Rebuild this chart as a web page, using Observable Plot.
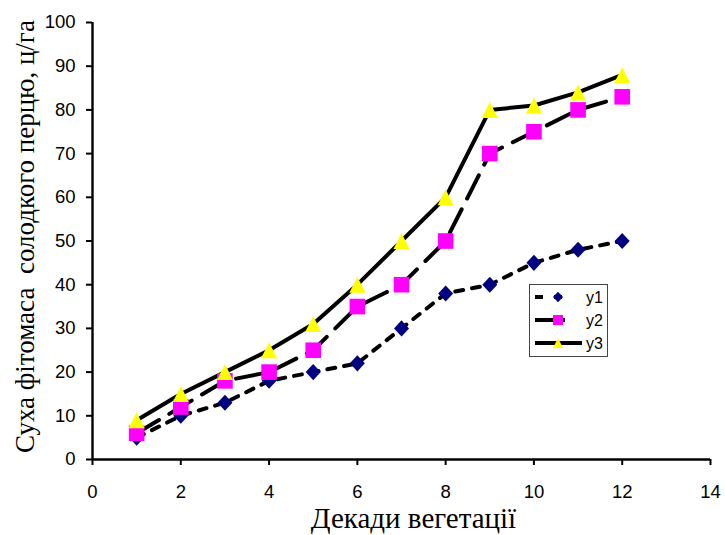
<!DOCTYPE html>
<html><head><meta charset="utf-8">
<script src="https://cdn.jsdelivr.net/npm/d3@7"></script>
<script src="https://cdn.jsdelivr.net/npm/@observablehq/plot@0.6"></script>
<style>
body{margin:0;background:#fff;}
#wrap{position:relative;width:725px;height:535px;}
#chart svg{overflow:visible;}
#legend{position:absolute;left:529px;top:284px;width:79px;height:73px;border:1px solid #444;background:#fff;box-sizing:border-box;font-family:"Liberation Sans",Arial,sans-serif;font-size:15px;}
</style></head>
<body><div id="wrap"><div id="chart"></div><div id="legend"></div></div>
<script>
const decades = [1,2,3,4,5,6,7,8,9,10,11,12];
const y1 = [5,10,13,18,20,22,30,38,40,45,48,50];
const y2 = [6,12,18,20,25,35,40,50,70,75,80,83];
const y3 = [9,15,20,25,31,40,50,60,80,81,84,88];
const xTicks = [0,2,4,6,8,10,12,14];
const yTicks = [0,10,20,30,40,50,60,70,80,90,100];
const seriesNames = ["y1","y2","y3"];
const yLabel = "Суха фітомаса  солодкого перцю, ц/га";
const xLabel = "Декади вегетації";

// custom marker shapes (r = sqrt(size/PI))
const diamondSym = {draw(ctx,size){const r=Math.sqrt(size/Math.PI);ctx.moveTo(0,-r*1.07);ctx.lineTo(r,0);ctx.lineTo(0,r*1.07);ctx.lineTo(-r,0);ctx.closePath();}};
const squareSym = {draw(ctx,size){const r=Math.sqrt(size/Math.PI);ctx.rect(-r,-r,2*r,2*r);}};
const triangleSym = {draw(ctx,size){const r=Math.sqrt(size/Math.PI);ctx.moveTo(0,-r);ctx.lineTo(r,r);ctx.lineTo(-r,r);ctx.closePath();}};

const styles = {
  y1:{dash:"8,9", symbol:diamondSym, fill:"#000080", r:7.5},
  y2:{dash:"26,12", symbol:squareSym, fill:"#FF00FF", r:7.8},
  y3:{dash:null, symbol:triangleSym, fill:"#FFFF00", r:8}
};
const seriesVals = [y1,y2,y3];
const rows = [];
seriesNames.forEach((s,i)=>decades.forEach((d,j)=>rows.push({series:s,x:d,y:seriesVals[i][j]})));

const marks = [];
seriesNames.forEach(s=>{
  const data = rows.filter(r=>r.series===s);
  marks.push(Plot.line(data,{x:"x",y:"y",stroke:"black",strokeWidth:4,strokeDasharray:styles[s].dash||undefined}));
});
seriesNames.forEach(s=>{
  const data = rows.filter(r=>r.series===s);
  marks.push(Plot.dot(data,{x:"x",y:"y",symbol:()=>styles[s].symbol,fill:styles[s].fill,stroke:"none",r:styles[s].r}));
});

const chart = Plot.plot({
  width:725,height:535,
  marginLeft:92,marginRight:15,marginTop:22,marginBottom:76,
  style:{fontFamily:"Liberation Sans, Arial, sans-serif",background:"#fff",overflow:"visible"},
  x:{domain:[0,14]},
  y:{domain:[0,100]},
  symbol:{type:"identity"},
  marks:[
    ...marks,
    Plot.ruleY([0],{stroke:"black",strokeWidth:2.4}),
    Plot.ruleX([0],{stroke:"black",strokeWidth:2.4}),
    Plot.axisX({ticks:xTicks,tickSize:6,tickPadding:19,fontSize:18.5,label:null,stroke:"black",strokeWidth:2,tickFormat:d=>String(d)}),
    Plot.axisY({ticks:yTicks,tickSize:6,tickPadding:11,fontSize:18.5,label:null,stroke:"black",strokeWidth:2,tickFormat:d=>String(d)}),
    Plot.text([yLabel],{frameAnchor:"left",textAnchor:"middle",lineAnchor:"middle",rotate:-90,dx:-67,dy:-4.5,fontSize:27,fontFamily:"Liberation Serif, Times New Roman, serif",fill:"black"}),
    Plot.text([xLabel],{frameAnchor:"bottom",textAnchor:"middle",lineAnchor:"middle",dy:59.5,dx:12,fontSize:29,fontFamily:"Liberation Serif, Times New Roman, serif",fill:"black"})
  ]
});
document.getElementById("chart").appendChild(chart);

// legend
const leg = d3.select("#legend").append("svg").attr("width",77).attr("height",71);
const legendLen = {y1:36, y2:30, y3:47};
seriesNames.forEach((s,i)=>{
  const cy = 12 + i*23;
  const st = styles[s];
  leg.append("line").attr("x1",5).attr("x2",5+legendLen[s]).attr("y1",cy).attr("y2",cy)
    .attr("stroke","black").attr("stroke-width",4).attr("stroke-dasharray",s==="y1"?"8,11":(s==="y2"?"30,12":null));
  leg.append("path").attr("d",d3.symbol(st.symbol,Math.PI*5*5)())
    .attr("transform",`translate(28,${cy})`).attr("fill",st.fill);
  leg.append("text").attr("x",56).attr("y",cy+6).text(s).attr("font-size",16).attr("font-family","Liberation Sans, Arial, sans-serif");
});
</script></body></html>
